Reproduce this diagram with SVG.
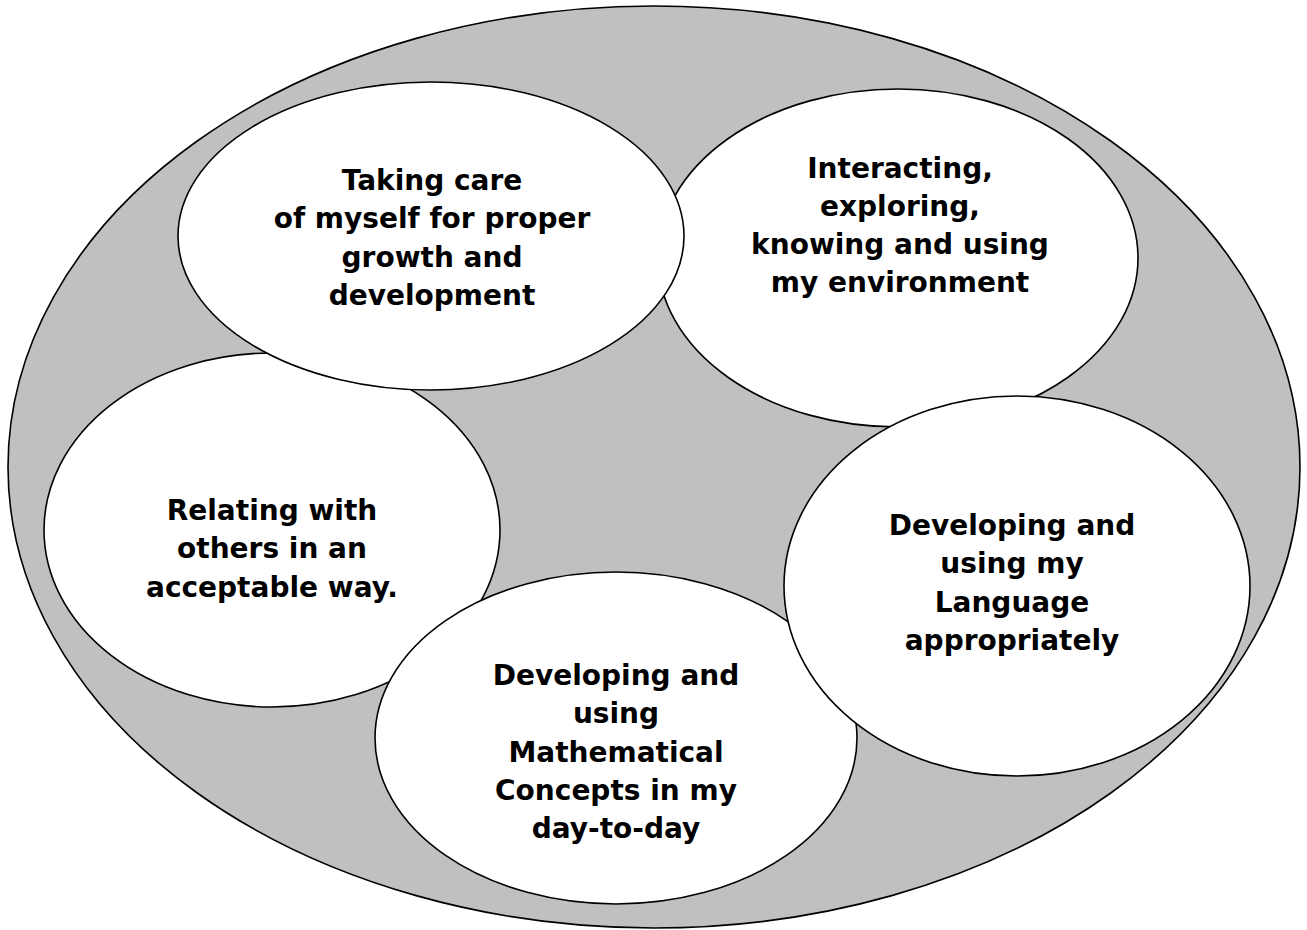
<svg xmlns="http://www.w3.org/2000/svg" width="1307" height="930" viewBox="0 0 1307 930">
  <style>
    .bg { fill: #ffffff; }
    .outer { fill: #c0c0c0; stroke: #000000; stroke-width: 1.6; }
    .node { fill: #ffffff; stroke: #000000; stroke-width: 1.6; }
    .label { font-family: "DejaVu Sans", Verdana, sans-serif; font-weight: bold; font-size: 28px; fill: #000000; text-anchor: middle; }
  </style>
  <rect class="bg" x="0" y="0" width="1307" height="930"/>
  <g id="container">
    <ellipse class="outer" cx="654" cy="467" rx="646" ry="461"/>
  </g>
  <g id="connectors"></g>
  <g id="node-relating">
    <ellipse class="node" cx="272" cy="530" rx="228" ry="177"/>
    <text class="label" x="272" y="520">Relating with</text>
    <text class="label" x="272" y="558">others in an</text>
    <text class="label" x="272" y="597">acceptable way.</text>
  </g>
  <g id="node-interacting">
    <ellipse class="node" cx="898" cy="258" rx="240" ry="169"/>
    <text class="label" x="900" y="178">Interacting,</text>
    <text class="label" x="900" y="216">exploring,</text>
    <text class="label" x="900" y="254">knowing and using</text>
    <text class="label" x="900" y="292">my environment</text>
  </g>
  <g id="node-taking-care">
    <ellipse class="node" cx="431" cy="236" rx="253" ry="154"/>
    <text class="label" x="432" y="190">Taking care</text>
    <text class="label" x="432" y="228">of myself for proper</text>
    <text class="label" x="432" y="267">growth and</text>
    <text class="label" x="432" y="305">development</text>
  </g>
  <g id="node-math">
    <ellipse class="node" cx="616" cy="738" rx="241" ry="166"/>
    <text class="label" x="616" y="685">Developing and</text>
    <text class="label" x="616" y="723">using</text>
    <text class="label" x="616" y="762">Mathematical</text>
    <text class="label" x="616" y="800">Concepts in my</text>
    <text class="label" x="616" y="838">day-to-day</text>
  </g>
  <g id="node-language">
    <ellipse class="node" cx="1017" cy="586" rx="233" ry="190"/>
    <text class="label" x="1012" y="535">Developing and</text>
    <text class="label" x="1012" y="573">using my</text>
    <text class="label" x="1012" y="612">Language</text>
    <text class="label" x="1012" y="650">appropriately</text>
  </g>
</svg>
